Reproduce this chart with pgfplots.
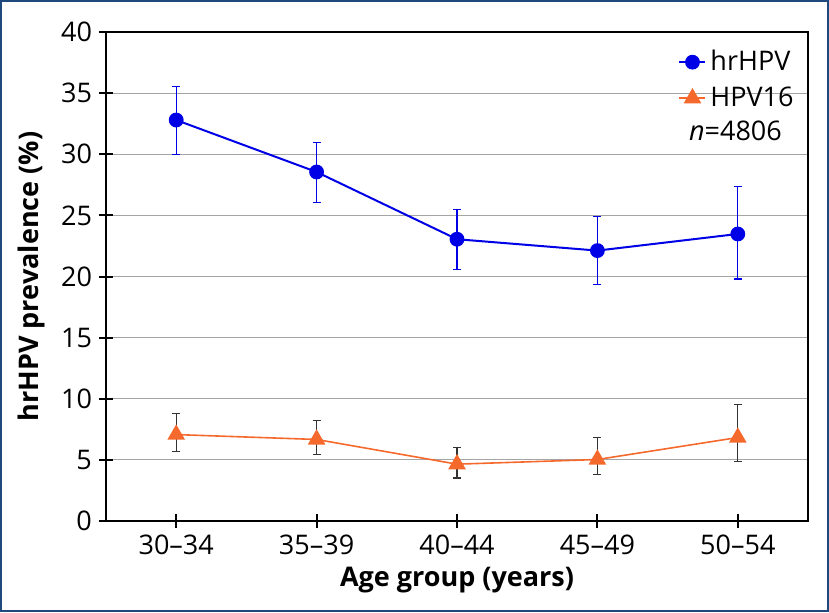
\documentclass[border=0pt]{standalone}
\usepackage{fontspec}
\setmainfont{Open Sans}
\usepackage{pgfplots}
\pgfplotsset{compat=1.18}
\definecolor{hrblue}{RGB}{0,0,230}
\definecolor{hpvorange}{RGB}{245,105,45}
\definecolor{framecol}{RGB}{31,73,125}
\definecolor{gridgray}{RGB}{165,165,165}
\newcommand{\fs}{\fontsize{13.5}{16}\selectfont}
\pgfplotstableread{
x y ep em
0 32.80 2.75 2.80
1 28.55 2.41 2.48
2 23.05 2.45 2.45
3 22.12 2.80 2.77
4 23.48 3.87 3.68
}\hrhpv
\pgfplotstableread{
x y ep em
0 7.07 1.72 1.38
1 6.67 1.52 1.26
2 4.65 1.39 1.14
3 5.03 1.83 1.22
4 6.83 2.67 1.96
}\hpvsixteen
\begin{document}
\begin{tikzpicture}
\begin{axis}[
  name=ax,
  scale only axis,
  width=351pt, height=244.5pt,
  xmin=-0.5, xmax=4.5, ymin=0, ymax=40,
  xtick={0,1,2,3,4},
  xticklabels={30--34,35--39,40--44,45--49,50--54},
  ytick={0,5,10,15,20,25,30,35,40},
  xtick pos=left, ytick pos=left,
  tick align=center,
  major tick length=7pt,
  tick style={black, line width=1pt},
  axis line style={black, line width=1pt},
  ymajorgrids,
  grid style={gridgray, line width=0.6pt},
  /pgf/number format/assume math mode=true,
  tick label style={font=\fs},
  xlabel={Age group (years)},
  ylabel={hrHPV prevalence (\%)},
  label style={font=\fs\bfseries},
  xlabel style={at={(axis description cs:0.5,0)}, anchor=center, yshift=-29.5pt},
  ylabel style={at={(axis description cs:-0.1068,0.5)}, anchor=center},
  legend style={at={(rel axis cs:1,1)}, anchor=north east, xshift=-2pt, yshift=-5pt,
    draw=none, fill=none, font=\fs, row sep=2.5pt},
  legend cell align=left,
  legend image code/.code={\draw[mark repeat=2,mark phase=2] plot coordinates {(0pt,0pt)(6.5pt,0pt)(13pt,0pt)};},
]
\addplot[hrblue, line width=1pt, mark=*, mark size=3.2pt,
  error bars/.cd, y dir=both, y explicit,
  error bar style={hrblue, line width=0.6pt},
  error mark options={hrblue, line width=0.6pt, mark size=2pt, rotate=90}]
  table[x=x, y=y, y error plus=ep, y error minus=em] {\hrhpv};
\addlegendentry{hrHPV}
\addplot[hpvorange, line width=0.8pt, mark=triangle*, mark size=4.3pt,
  error bars/.cd, y dir=both, y explicit,
  error bar style={black!80, line width=0.6pt},
  error mark options={black!80, line width=0.6pt, mark size=2pt, rotate=90}]
  table[x=x, y=y, y error plus=ep, y error minus=em] {\hpvsixteen};
\addlegendentry{HPV16}
\node[font=\fs, anchor=base west, inner sep=0pt] at (axis cs:3.65,31.1) {\textit{n}=4806};
\end{axis}
\pgfresetboundingbox
\draw[framecol, line width=1.2pt] (-52.4pt,-44.9pt) rectangle (360.9pt,259.9pt);
\useasboundingbox (-53pt,-45.5pt) rectangle (361.5pt,260.5pt);
\end{tikzpicture}
\end{document}
